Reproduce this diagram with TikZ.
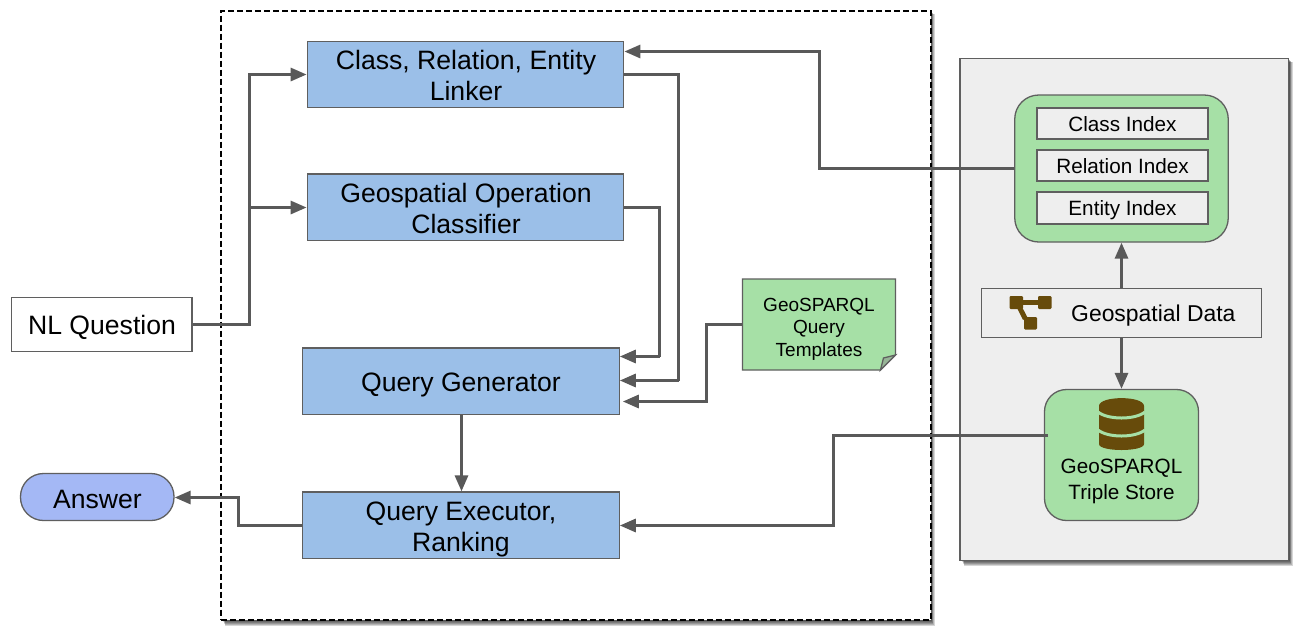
\documentclass[tikz,border=0pt]{standalone}
\usepackage{fontspec}
\setmainfont{Liberation Sans}
\usetikzlibrary{arrows.meta,calc}
\definecolor{bluebox}{HTML}{9BBFE8}
\definecolor{greenbox}{HTML}{A6E0A6}
\definecolor{lineg}{HTML}{595959}
\definecolor{edgeg}{HTML}{5F5F5F}
\definecolor{panel}{HTML}{EEEEEE}
\definecolor{iconb}{HTML}{674B0B}
\definecolor{ansb}{HTML}{A4B8F5}
\tikzset{
  x=1pt,y=-1pt,
  conn/.style={draw=lineg,line width=3pt,-{Triangle[length=16pt,width=13pt]},line join=miter},
  plain/.style={draw=lineg,line width=3pt},
  stage/.style={draw=edgeg,line width=1.3pt,fill=bluebox,inner sep=0pt,
     minimum width=316.5pt,minimum height=66.5pt},
  bigtext/.style={font=\fontsize{26.6}{31}\selectfont,align=center,inner sep=0pt},
  idx/.style={draw=edgeg,line width=1.3pt,fill=panel,minimum width=171pt,minimum height=31pt,inner sep=0pt},
  idxtext/.style={font=\fontsize{20.7}{24}\selectfont,inner sep=0pt},
  shade1/.style={fill=black,opacity=0.16,draw=none},
}
\newcommand{\softshadow}[4]{%
  \foreach \d in {1,2,...,6}{\fill[shade1] ({#1+1+\d*0.5},{#2+1+\d*0.5}) rectangle ({#3+\d*0.6},{#4+\d*0.95});}}
\begin{document}
\begin{tikzpicture}
\useasboundingbox (0,0) rectangle (1300,633);
\fill[white] (0,0) rectangle (1300,633);
% panels
\softshadow{221}{10}{931}{620}
\node[draw=black,dash pattern=on 6pt off 3pt,line width=2pt,fill=white,minimum width=710pt,minimum height=609pt,inner sep=0pt] (core) at (575.75,315) {};
\softshadow{960}{58}{1289}{560}
\node[draw=edgeg,line width=1.4pt,fill=panel,minimum width=328.5pt,minimum height=502pt,inner sep=0pt] (store) at (1124.25,309.5) {};
% stages
\node[stage] (linker) at (465.5,74.5) {};
\node[bigtext] (linkertext) at (466,75.5) {Class, Relation, Entity\\Linker};
\node[stage] (classifier) at (465.5,207.25) {};
\node[bigtext] (classifiertext) at (466,208) {Geospatial Operation\\Classifier};
\node[stage] (generator) at (460.9,381.25) {};
\node[bigtext] (generatortext) at (461,384.5) {Query Generator};
\node[stage] (executor) at (460.9,525.25) {};
\node[bigtext] (executortext) at (461,529.5) {Query Executor,\\Ranking};
% inputs / outputs
\node[draw=edgeg,line width=1.3pt,fill=white,minimum width=180.5pt,minimum height=54pt,inner sep=0pt] (nl) at (101.75,324.5) {};
\node[bigtext] (nltext) at (102,327) {NL Question};
\node[draw=edgeg,line width=1.3pt,fill=ansb,rounded corners=23pt,minimum width=153.5pt,minimum height=47pt,inner sep=0pt] (answer) at (97.25,497) {};
\node[bigtext] (answertext) at (97.5,499) {Answer};
% note
\fill[greenbox,draw=edgeg,line width=1.3pt] (742.5,279) -- (895.5,279) -- (895.5,355) -- (880.5,370) -- (742.5,370) -- cycle;
\fill[fill=greenbox!70!black!75,draw=edgeg,line width=1.3pt] (895.5,355) -- (883.5,358) -- (880.5,370) -- cycle;
\node[minimum width=153pt,minimum height=91pt,inner sep=0pt,align=center,font=\fontsize{19}{22.6}\selectfont] (note) at (819,329) {GeoSPARQL\\Query\\Templates};
% index group
\node[draw=edgeg,line width=1.3pt,fill=greenbox,rounded corners=24pt,minimum width=213.5pt,minimum height=147pt,inner sep=0pt] (group) at (1121.5,168.5) {};
\node[idx] (classidx) at (1122.5,123.5) {};
\node[idxtext] (classtext) at (1122.5,124.5) {Class Index};
\node[idx] (relidx) at (1122.5,165.5) {};
\node[idxtext] (reltext) at (1122.5,166.5) {Relation Index};
\node[idx,minimum height=32pt] (entidx) at (1122.5,208) {};
\node[idxtext] (enttext) at (1122.5,210) {Entity Index};
% geospatial data
\node[draw=edgeg,line width=1.3pt,fill=panel,minimum width=280pt,minimum height=49pt,inner sep=0pt] (geo) at (1121.5,313) {};
\node[anchor=west,inner sep=0pt,font=\fontsize{22.9}{26}\selectfont] (geolabel) at (1071,316) {Geospatial Data};
\begin{scope}
  \fill[iconb,rounded corners=1.2pt] (1009.5,296) rectangle (1023,309);
  \fill[iconb,rounded corners=1.2pt] (1038,296) rectangle (1051.5,309);
  \fill[iconb,rounded corners=1.2pt] (1024,317) rectangle (1037,329.5);
  \fill[iconb] (1021,300) rectangle (1038,304.5);
  \fill[iconb] (1016.5,307) -- (1021,305) -- (1027.5,317.5) -- (1023,320) -- cycle;
\end{scope}
% triple store
\node[draw=edgeg,line width=1.3pt,fill=greenbox,rounded corners=22pt,minimum width=154pt,minimum height=131pt,inner sep=0pt] (triple) at (1121.5,455) {};
\node[inner sep=0pt,align=center,font=\fontsize{20.7}{26}\selectfont] (triplelabel) at (1121.5,481) {GeoSPARQL\\Triple Store};
\begin{scope}
  \fill[iconb] (1099,406) .. controls (1099,395.5) and (1144,395.5) .. (1144,406)
     -- (1144,444) .. controls (1144,452) and (1099,452) .. (1099,444) -- cycle;
  \draw[greenbox,line width=3pt] (1098,412) .. controls (1108,420) and (1135,420) .. (1145,412);
  \draw[greenbox,line width=3pt] (1098,430) .. controls (1108,438) and (1135,438) .. (1145,430);
\end{scope}
% connector junctions
\coordinate (nlturn) at (249.5,324.5);
\coordinate (branch) at (249.5,207.5);
\coordinate (nltop) at (249.5,74.5);
\coordinate (linkin) at (linker.west |- nltop);
\coordinate (classin) at (classifier.west |- branch);
\coordinate (linkturn) at (678.5,74.5);
\coordinate (linkdown) at (678.5,380.5);
\coordinate (genlink) at (generator.east |- linkdown);
\coordinate (classturn) at (659.5,207.5);
\coordinate (classdown) at (659.5,356.5);
\coordinate (genclass) at (generator.east |- classdown);
\coordinate (noteturn) at (706.5,324.5);
\coordinate (notedown) at (706.5,401.5);
\coordinate (gennote) at ([xshift=3pt]generator.east |- notedown);
\coordinate (exturn) at (238.5,525.5);
\coordinate (exup) at (238.5,497.5);
\coordinate (tripleout) at (1048,435.5);
\coordinate (tripleturn) at (833.5,435.5);
\coordinate (tripledown) at (833.5,525.5);
\coordinate (idxout) at (group.west |- 0,168.5);
\coordinate (idxturn) at (819.5,168.5);
\coordinate (idxup) at (819.5,51.5);
\coordinate (linkidx) at (linker.east |- idxup);
\coordinate (genbottom) at (461.5,414.5);
\coordinate (exectop) at (461.5,492.5);
% connectors
\draw[conn] (nl.east |- nlturn) -- (nlturn) -- (nltop) -- (linkin);
\draw[conn] (branch) -- (classin);
\draw[plain] (linker.east |- linkturn) -- (linkturn) -- (linkdown);
\draw[conn] (linkdown) -- (genlink);
\draw[plain] (classifier.east |- classturn) -- (classturn) -- (classdown);
\draw[conn] (classdown) -- (genclass);
\draw[conn] (note.west |- noteturn) -- (noteturn) -- (notedown) -- (gennote);
\draw[conn] (generator.south -| genbottom) -- (executor.north -| exectop);
\draw[conn] (executor.west |- exturn) -- (exturn) -- (exup) -- (answer.east |- exup);
\draw[conn] (tripleout) -- (tripleturn) -- (tripledown) -- (executor.east |- tripledown);
\draw[conn] (idxout) -- (idxturn) -- (idxup) -- (linkidx);
\draw[conn] (geo.north -| group.south) -- (group.south);
\draw[conn] (geo.south -| group.south) -- (triple.north);
\end{tikzpicture}
\end{document}
